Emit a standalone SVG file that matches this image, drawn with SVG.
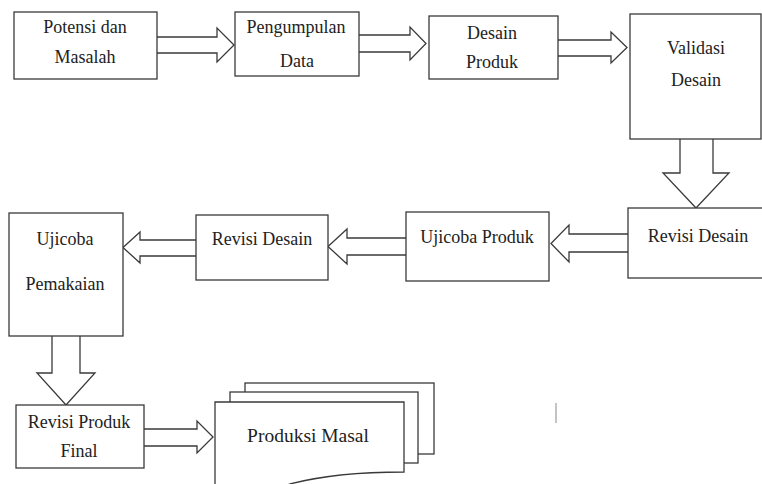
<svg xmlns="http://www.w3.org/2000/svg" width="762" height="484" viewBox="0 0 762 484">
<style>
.box{fill:#fff;stroke:#3a3a3a;stroke-width:1.3}
.arr{fill:#fff;stroke:#3a3a3a;stroke-width:1.3;stroke-linejoin:miter}
text{font-family:"Liberation Serif","Times New Roman",serif;font-size:18px;fill:#222;text-anchor:middle}
</style>
<rect width="762" height="484" fill="#fff"/>
<g id="connectors">
<path class="arr" d="M157,37 H217 V28 L234,45 L217,62 V53 H157"/>
<path class="arr" d="M359,35 H410 V27 L426,43.5 L410,60 V52 H359"/>
<path class="arr" d="M558,40 H611 V32 L627,47.5 L611,63 V56 H558"/>
<path class="arr" d="M680,139 V173 H663 L696,208 L729,173 H713 V139"/>
<path class="arr" d="M628,234 H569 V225 L551,243.5 L569,262 V252 H628"/>
<path class="arr" d="M406,238 H347 V229 L328,246.5 L347,264 V255 H406"/>
<path class="arr" d="M196,240 H140 V232 L123,247.5 L140,263 V256 H196"/>
<path class="arr" d="M52,336 V373 H37 L66,405 L95,373 H80 V336"/>
<path class="arr" d="M144,429 H197 V421 L213,437 L197,453 V446 H144"/>
</g>
<g id="n1"><rect class="box" x="14" y="12" width="143" height="67"/><text x="85" y="33">Potensi dan</text><text x="85" y="63">Masalah</text></g>
<g id="n2"><rect class="box" x="235" y="12" width="124" height="64"/><text x="296" y="33">Pengumpulan</text><text x="297" y="67">Data</text></g>
<g id="n3"><rect class="box" x="429" y="16" width="129" height="63"/><text x="492" y="39">Desain</text><text x="492" y="68">Produk</text></g>
<g id="n4"><rect class="box" x="630" y="14" width="131" height="125"/><text x="696" y="54">Validasi</text><text x="696" y="86">Desain</text></g>
<g id="n5"><rect class="box" x="628" y="208" width="140" height="70"/><text x="698" y="242">Revisi Desain</text></g>
<g id="n6"><rect class="box" x="406" y="212" width="143" height="69"/><text x="477" y="243">Ujicoba Produk</text></g>
<g id="n7"><rect class="box" x="196" y="215" width="132" height="65"/><text x="262" y="245">Revisi Desain</text></g>
<g id="n8"><rect class="box" x="9" y="213" width="114" height="123"/><text x="65" y="245">Ujicoba</text><text x="65" y="290">Pemakaian</text></g>
<g id="n9"><rect class="box" x="16" y="405" width="128" height="63"/><text x="79" y="428">Revisi Produk</text><text x="79" y="457">Final</text></g>
<g id="n10">
<rect class="box" x="245" y="383" width="189" height="71"/>
<rect class="box" x="230" y="392" width="188" height="71"/>
<path class="box" d="M215,520 V402 H404 V472 C360,472 320,476 290,484 C270,490 250,500 215,520 Z"/>
<text x="308" y="442" style="font-size:19.5px">Produksi Masal</text>
</g>
<line x1="556" y1="403" x2="556" y2="423" stroke="#888" stroke-width="1"/>
</svg>
